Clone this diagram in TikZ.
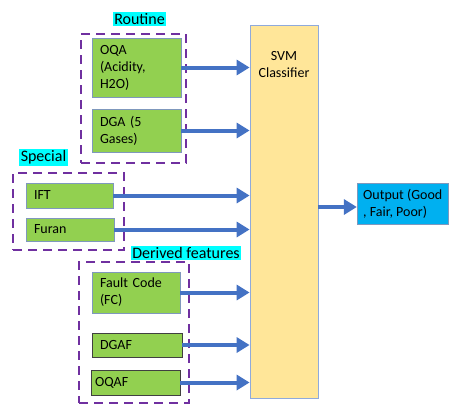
\documentclass[tikz,border=0pt]{standalone}
\usepackage{fontspec}
\setmainfont{Carlito}
\usetikzlibrary{arrows.meta}
\definecolor{featg}{HTML}{92D050}
\definecolor{featb}{HTML}{7F98BD}
\definecolor{darkb}{HTML}{404040}
\definecolor{svmy}{HTML}{FFE699}
\definecolor{svmb}{HTML}{8FAADC}
\definecolor{outb}{HTML}{00B0F0}
\definecolor{arr}{HTML}{4472C4}
\definecolor{grp}{HTML}{7030A0}
\definecolor{labc}{HTML}{00FFFF}
\begin{document}
\begin{tikzpicture}[x=1pt,y=-1pt,
  font=\fontsize{14}{17}\selectfont,
  feat/.style={draw=featb, line width=0.8pt, fill=featg, align=left, inner xsep=8pt, inner ysep=0pt},
  featdark/.style={feat, draw=darkb},
  grpbox/.style={draw=grp, line width=2.8pt, dash pattern=on 9pt off 6pt, inner sep=0pt},
  grplabel/.style={fill=labc, inner sep=1.5pt, font=\fontsize{16}{18}\selectfont},
  flow/.style={draw=arr, line width=4pt, -{Triangle[width=15pt,length=13pt]}}]
\useasboundingbox (0,0) rectangle (449,405);

% groups
\node[grpbox, minimum width=105pt, minimum height=129pt] (routine) at (133.5,98.5) {};
\node[grpbox, minimum width=111pt, minimum height=77pt] (special) at (68.5,211.5) {};
\node[grpbox, minimum width=110pt, minimum height=141pt] (derived) at (134,332.5) {};

% group labels
\node[grplabel] (routinelbl) at (139.5,19) {Routine};
\node[grplabel] (speciallbl) at (43.5,157.5) {Special};
\node[grplabel] (derivedlbl) at (186,253) {Derived features};

% features
\node[feat, text width=73pt, minimum height=59pt] (oqa) at (136.5,67.5) {OQA\\(Acidity,\\H2O)};
\node[feat, text width=73pt, minimum height=43pt] (dga) at (136.5,130.5) {DGA (5\\Gases)};
\node[feat, text width=71pt, minimum height=25pt] (ift) at (69.5,195.5) {IFT};
\node[feat, text width=72pt, minimum height=23pt] (furan) at (70,229.5) {Furan};
\node[feat, text width=72pt, minimum height=41pt] (fc) at (136,292.5) {Fault Code\\(FC)};
\node[featdark, text width=74pt, minimum height=24pt] (dgaf) at (137,345) {DGAF};
\node[featdark, minimum height=25pt, inner xsep=4pt, text width=81pt] (oqaf) at (135.5,382.5) {OQAF};

% classifier
\node[draw=svmb, line width=0.8pt, fill=svmy, minimum width=68pt, minimum height=373pt, inner sep=0pt] (svm) at (284,211.5) {};
\node[align=center, inner sep=0pt] (svmlbl) at (284,65) {SVM\\Classifier};

% output
\node[draw=featb, line width=0.8pt, fill=outb, align=left, minimum width=91pt, minimum height=41pt, inner sep=0pt] (out) at (402.75,203.5) {Output (Good\\, Fair, Poor)};

% arrows
\foreach \n in {oqa,dga,ift,furan,fc,dgaf,oqaf}
  \draw[flow] (\n.east) -- (\n.east -| svm.west);
\draw[flow] ([yshift=-3.5pt]out.west -| svm.east) -- ([yshift=-3.5pt]out.west);
\end{tikzpicture}
\end{document}
